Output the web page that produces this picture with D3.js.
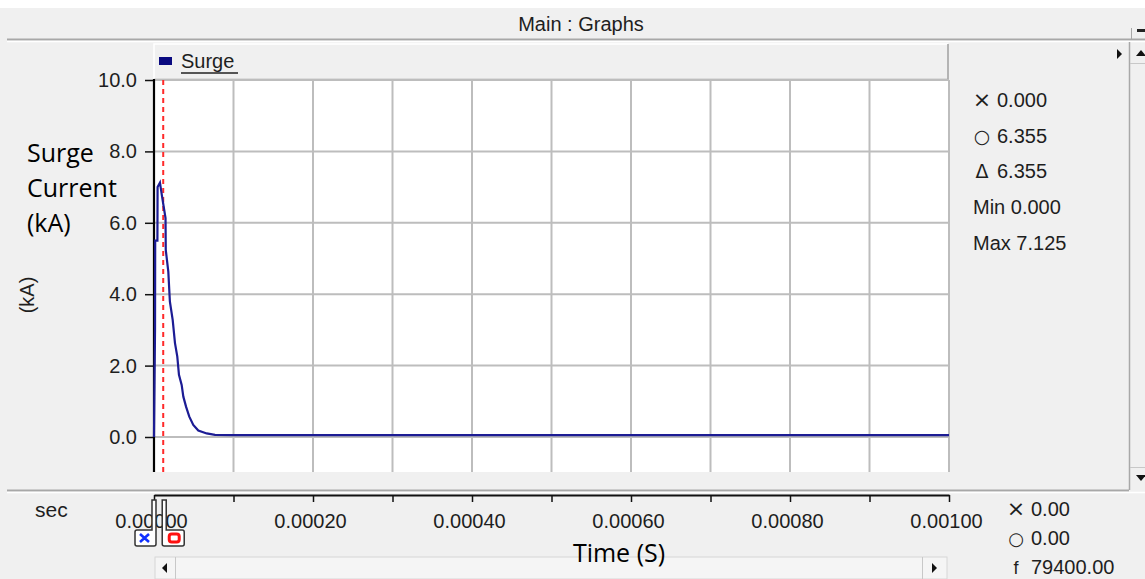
<!DOCTYPE html>
<html><head><meta charset="utf-8">
<script src="https://cdn.jsdelivr.net/npm/d3@7/dist/d3.min.js"></script>
<style>html,body{margin:0;padding:0;background:#f0f0f0;overflow:hidden}svg{display:block}</style>
</head><body>
<svg id="c" width="1145" height="579"></svg>
<script>
// ---- data ----
const timeUs  = [0, 1.3, 1.5, 4.3, 4.5, 7.5, 10.4, 14.5, 14.8, 18.0, 20.0, 23.5, 26.4, 29.3, 31.4, 34.8, 36.9, 40.3, 44.4, 49.4, 55.7, 66.3, 76.7, 100, 1000];
const surgeKA = [0, 3.05, 5.5, 5.5, 7.0, 7.125, 6.7, 6.13, 5.24, 4.63, 3.79, 3.28, 2.63, 2.25, 1.74, 1.46, 1.13, 0.85, 0.57, 0.34, 0.18, 0.10, 0.06, 0.05, 0.05];
const yTicks = [0, 2, 4, 6, 8, 10];
const xGridTicks = [0, 0.0001, 0.0002, 0.0003, 0.0004, 0.0005, 0.0006, 0.0007, 0.0008, 0.0009, 0.001];
const xLabelTicks = [0, 0.0002, 0.0004, 0.0006, 0.0008, 0.001];
const cursorXTime = 0;
const cursorOTime = 11.6e-6;
const seriesName = "Surge";
const titleText = "Main : Graphs";
const yLabelLines = ["Surge", "Current", "(kA)"];
const yUnit = "(kA)";
const xUnit = "sec";
const xTitle = "Time (S)";
const readoutSymbols = ["×", "○", "Δ", "Min", "Max"];
const readoutValues  = ["0.000", "6.355", "6.355", "0.000", "7.125"];
const bottomSymbols = ["×", "○", "f"];
const bottomValues  = ["0.00", "0.00", "79400.00"];

// ---- layout ----
const svg = d3.select("#c");
const L = 154, R = 949, T = 80, B = 472;
const x = d3.scaleLinear().domain([0, 0.001]).range([L, R]);
const y = d3.scaleLinear().domain([0, 10]).range([437, T]);
const sans = "'Liberation Sans', Arial, sans-serif";
const cal = "'Open Sans', sans-serif";
const txt = "#1e1e1e";

// top white strip + title bar
svg.append("rect").attr("x",0).attr("y",0).attr("width",1145).attr("height",8).attr("fill","#fff");
svg.append("text").attr("x",581).attr("y",31).attr("text-anchor","middle")
  .attr("font-family",sans).attr("font-size",20).attr("fill",txt).text(titleText);
svg.append("line").attr("x1",7).attr("x2",1145).attr("y1",39.5).attr("y2",39.5).attr("stroke","#a8a8a8").attr("stroke-width",2);
svg.append("line").attr("x1",7).attr("x2",1145).attr("y1",41.5).attr("y2",41.5).attr("stroke","#ffffff").attr("stroke-width",1.5);
svg.append("line").attr("x1",1131.5).attr("x2",1131.5).attr("y1",28).attr("y2",39).attr("stroke","#a8a8a8");
svg.append("rect").attr("x",1137).attr("y",29).attr("width",8).attr("height",3).attr("fill","#222");

// right vertical scrollbar
svg.append("line").attr("x1",1129.5).attr("x2",1129.5).attr("y1",42).attr("y2",490).attr("stroke","#a8a8a8").attr("stroke-width",1.5);
svg.append("line").attr("x1",1130).attr("x2",1145).attr("y1",63.5).attr("y2",63.5).attr("stroke","#c8c8c8");
svg.append("line").attr("x1",1130).attr("x2",1145).attr("y1",467.5).attr("y2",467.5).attr("stroke","#c8c8c8");
svg.append("path").attr("d","M1136,56 L1141,50 L1146,56 Z").attr("fill","#111");
svg.append("path").attr("d","M1136,475 L1141,481 L1146,475 Z").attr("fill","#111");
svg.append("path").attr("d","M1117,49 L1122,54 L1117,59 Z").attr("fill","#111");

// legend bar
svg.append("rect").attr("x",L).attr("y",44).attr("width",R-L-1).attr("height",35).attr("fill","#f0f0f0");
svg.append("path").attr("d",`M${L},79 V44 H${R-1}`).attr("fill","none").attr("stroke","#fff").attr("stroke-width",1.5);
svg.append("path").attr("d",`M${R-1},44 V79.5 H${L}`).attr("fill","none").attr("stroke","#a0a0a0").attr("stroke-width",1.5);
svg.append("rect").attr("x",159).attr("y",57).attr("width",13).attr("height",8).attr("fill","#0a0a80");
svg.append("text").attr("x",181).attr("y",68).attr("font-family",sans).attr("font-size",20).attr("fill",txt).text(seriesName);
svg.append("line").attr("x1",181).attr("x2",238).attr("y1",73).attr("y2",73).attr("stroke","#222").attr("stroke-width",1.5);

// plot area
svg.append("rect").attr("x",L).attr("y",T).attr("width",R-L).attr("height",B-T).attr("fill","#fff");
const g = svg.append("g");
g.selectAll(".vg").data(xGridTicks.slice(1)).join("line")
  .attr("x1",d=>x(d)).attr("x2",d=>x(d)).attr("y1",T).attr("y2",B)
  .attr("stroke","#bdbdbd").attr("stroke-width",2);
g.selectAll(".hg").data(yTicks).join("line")
  .attr("x1",L).attr("x2",R).attr("y1",d=>y(d)).attr("y2",d=>y(d))
  .attr("stroke","#bdbdbd").attr("stroke-width",2);

// y axis
const yAxis = d3.axisLeft(y).tickValues(yTicks).tickFormat(d3.format(".1f")).tickSize(9).tickPadding(8);
const ya = svg.append("g").attr("transform",`translate(${L},0)`).call(yAxis);
ya.select(".domain").remove();
ya.selectAll(".tick line").attr("stroke","#111").attr("stroke-width",1.5);
ya.selectAll(".tick text").attr("font-family",sans).attr("font-size",20).attr("fill",txt);
svg.append("line").attr("x1",L).attr("x2",L).attr("y1",T-1).attr("y2",B).attr("stroke","#000").attr("stroke-width",2.2);

// cursor O dashed line
svg.append("line").attr("x1",x(cursorOTime)).attr("x2",x(cursorOTime)).attr("y1",T).attr("y2",B)
  .attr("stroke","#ff2a2a").attr("stroke-width",2).attr("stroke-dasharray","5,4");

// curve
const pts = timeUs.map((t,i)=>[t*1e-6, surgeKA[i]]);
svg.append("path").datum(pts)
  .attr("d", d3.line().x(d=>x(d[0])).y(d=>y(d[1])))
  .attr("fill","none").attr("stroke","#1c1c94").attr("stroke-width",2.2);

// left labels
svg.selectAll(".yl").data(yLabelLines).join("text")
  .attr("x",27).attr("y",(d,i)=>162+i*35).attr("font-family",cal).attr("font-size",25).attr("fill","#000").text(d=>d);
svg.append("text").attr("transform","translate(34,295) rotate(-90)").attr("text-anchor","middle")
  .attr("font-family",sans).attr("font-size",20).attr("fill",txt).text(yUnit);

// right readouts
readoutSymbols.forEach((s,i)=>{
  const yy = 107 + i*35.7;
  if (i < 3) {
    svg.append("text").attr("x",982).attr("y",yy).attr("text-anchor","middle").attr("font-family","'DejaVu Sans', sans-serif")
      .attr("font-size",i===0?22:19).attr("fill",txt).text(s);
    svg.append("text").attr("x",997).attr("y",yy).attr("font-family",sans).attr("font-size",20).attr("fill",txt).text(readoutValues[i]);
  } else {
    svg.append("text").attr("x",973).attr("y",yy).attr("font-family",sans).attr("font-size",20).attr("fill",txt)
      .text(s + " " + readoutValues[i]);
  }
});

// bottom separator
svg.append("line").attr("x1",7).attr("x2",1129).attr("y1",490.5).attr("y2",490.5).attr("stroke","#a8a8a8").attr("stroke-width",2);
svg.append("line").attr("x1",7).attr("x2",1145).attr("y1",492.5).attr("y2",492.5).attr("stroke","#fff").attr("stroke-width",1.5);

// x axis
const xAxis = d3.axisBottom(x).tickValues(xGridTicks).tickFormat(d=>xLabelTicks.some(v=>Math.abs(v-d)<1e-9)?d3.format(".5f")(d):"").tickSize(7).tickPadding(12).tickSizeOuter(0);
const xa = svg.append("g").attr("transform","translate(0,495)").call(xAxis);
xa.select(".domain").attr("stroke","#111").attr("stroke-width",2);
xa.selectAll(".tick line").attr("stroke","#111").attr("stroke-width",1.5);
xa.selectAll(".tick text").attr("font-family",sans).attr("font-size",20).attr("fill",txt).attr("dx",-3);
svg.append("text").attr("x",35).attr("y",517).attr("font-family",sans).attr("font-size",21).attr("fill",txt).text(xUnit);

// cursor flags
const xc = x(cursorXTime), oc = x(cursorOTime)+1;
svg.append("path").attr("d",`M${xc-2},500 H${xc+2} V544 Q${xc+2},546 ${xc},546 H${xc-17} Q${xc-19},546 ${xc-19},544 V532 Q${xc-19},530 ${xc-17},530 H${xc-2} Z`)
  .attr("fill","#fff").attr("stroke","#333").attr("stroke-width",1.5);
svg.append("path").attr("d",`M${xc-14},534 L${xc-5},542 M${xc-5},534 L${xc-14},542`)
  .attr("stroke","#1030ff").attr("stroke-width",2.6).attr("fill","none");
svg.append("path").attr("d",`M${oc-2},500 H${oc+2} V530 H${oc+18} Q${oc+20},530 ${oc+20},532 V544 Q${oc+20},546 ${oc+18},546 H${oc} Q${oc-2},546 ${oc-2},544 Z`)
  .attr("fill","#fff").attr("stroke","#333").attr("stroke-width",1.5);
svg.append("rect").attr("x",oc+5).attr("y",534).attr("width",10).attr("height",8).attr("rx",2.5)
  .attr("fill","none").attr("stroke","#ff1010").attr("stroke-width",3);

// bottom scrollbar
svg.append("rect").attr("x",L+1).attr("y",557).attr("width",R-L-3).attr("height",22).attr("fill","#f5f5f5").attr("stroke","#d6d6d6");
svg.append("line").attr("x1",175.5).attr("x2",175.5).attr("y1",557).attr("y2",579).attr("stroke","#c8c8c8");
svg.append("line").attr("x1",922.5).attr("x2",922.5).attr("y1",557).attr("y2",579).attr("stroke","#c8c8c8");
svg.append("path").attr("d","M167,563 L162,568 L167,573 Z").attr("fill","#111");
svg.append("path").attr("d","M932,563 L937,568 L932,573 Z").attr("fill","#111");
svg.append("text").attr("x",619).attr("y",562).attr("text-anchor","middle").attr("font-family",cal).attr("font-size",25).attr("fill","#000").text(xTitle);

// bottom-right readouts
bottomSymbols.forEach((s,i)=>{
  const yy = 516 + i*29;
  svg.append("text").attr("x",1016).attr("y",yy).attr("text-anchor","middle")
    .attr("font-family",i===2?sans:"'DejaVu Sans', sans-serif").attr("font-size",i===0?22:18).attr("fill",txt).text(s);
  svg.append("text").attr("x",1031).attr("y",yy).attr("font-family",sans).attr("font-size",20).attr("fill",txt).text(bottomValues[i]);
});
</script>
</body></html>
